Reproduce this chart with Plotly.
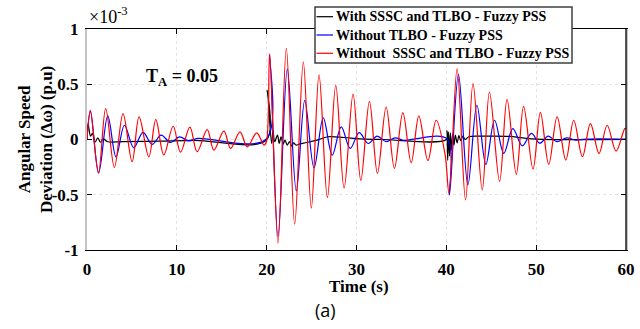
import plotly.graph_objects as go

# ---------------- data (values in units of 1e-3 p.u.) ----------------
series_names = [
    "With SSSC and TLBO - Fuzzy PSS",
    "Without TLBO - Fuzzy PSS",
    "Without  SSSC and TLBO - Fuzzy PSS",
]
series_colors = ["#000000", "#0000ff", "#ff0000"]

black_t = [0, 0.12, 0.4, 0.6, 0.9, 1.2, 1.5, 1.8, 2.3, 4.0, 8.0, 12.0, 19.97,
           20.07, 20.55, 20.7, 20.9, 21.2, 21.4, 21.6, 21.85, 22.04, 22.3, 22.55,
           22.8, 23.0, 23.27, 23.7, 24.46, 25.6, 26.8, 28.6, 30.4, 33.0, 40.0,
           40.07, 40.15, 40.25, 40.35, 40.45, 40.55, 40.7, 40.85, 41.0, 41.2,
           41.4, 41.6, 41.85, 42.1, 42.5, 44.0, 47.0, 48.5, 50.0, 60]
black_v = [0, 0.14, 0.03, 0.055, -0.025, 0.015, -0.025, 0.005, -0.02, -0.02,
           -0.015, -0.008, -0.005, 0.444, -0.036, 0.084, -0.02, 0.039, -0.036,
           0.023, -0.04, -0.006, -0.05, -0.02, -0.06, -0.03, -0.05, -0.04,
           -0.027, -0.006, 0.025, 0.018, 0.005, 0.0, 0.0, 0.08, -0.19, 0.07,
           -0.15, 0.06, -0.1, 0.05, -0.05, 0.04, -0.03, 0.035, -0.01, 0.03, 0.0,
           0.025, 0.03, 0.028, 0.015, 0.003, 0.0]

blue_t = [0, 0.38, 1.3, 2.31, 3.23, 4.17, 5.2, 6.24, 7.25, 8.25, 9.3, 10.3,
          11.3, 12.3, 13.4, 19.97, 20.33, 21.26, 22.3, 23.3, 24.24, 25.27, 26.3,
          27.3, 28.3, 29.3, 30.3, 31.3, 32.3, 33.3, 34.3, 35.3, 36.4, 40.1,
          40.35, 41.35, 42.4, 43.4, 44.4, 45.37, 46.4, 47.4, 48.46, 49.47, 50.4,
          51.35, 52.3, 53.4, 54.4, 55.5, 60]
blue_v = [0, 0.255, -0.30, 0.213, -0.157, 0.129, -0.075, 0.065, -0.045, 0.039,
          -0.027, 0.023, -0.012, 0.01, 0.003, 0.005, 0.766, -0.877, 0.64,
          -0.466, 0.354, -0.256, 0.195, -0.141, 0.114, -0.081, 0.063, -0.036,
          0.03, -0.02, 0.015, -0.008, 0.004, 0.004, -0.50, 0.59, -0.41, 0.31,
          -0.225, 0.174, -0.126, 0.099, -0.058, 0.055, -0.033, 0.03, -0.02,
          0.015, -0.006, 0.004, 0.004]

red_t = [0, 0.38, 1.27, 2.08, 3.05, 4.01, 5.02, 5.80, 6.88, 7.66, 8.55, 9.59,
         10.41, 11.45, 12.26, 13.38, 14.12, 15.24, 15.99, 17.03, 17.84, 18.89,
         19.7, 19.97, 20.33, 21.26, 22.19, 23.12, 24.08, 24.97, 25.83, 26.76,
         27.69, 28.62, 29.62, 30.48, 31.44, 32.33, 33.3, 34.22, 35.16, 36.09,
         36.94, 37.95, 38.87, 39.85, 40.3, 41.2, 42.14, 42.97, 44.0, 44.8,
         45.93, 46.76, 47.79, 48.6, 49.65, 50.47, 51.4, 52.33, 53.3, 54.18,
         55.15, 56.04, 57.0, 57.9, 58.9, 59.87, 60]
red_v = [0, 0.264, -0.306, 0.279, -0.252, 0.234, -0.20, 0.204, -0.157, 0.18,
         -0.14, 0.12, -0.115, 0.112, -0.11, 0.09, -0.096, 0.075, -0.081, 0.069,
         -0.067, 0.06, -0.05, -0.02, 0.775, -0.937, 0.825, -0.766, 0.70, -0.62,
         0.585, -0.526, 0.49, -0.44, 0.41, -0.37, 0.345, -0.306, 0.294, -0.261,
         0.243, -0.21, 0.213, -0.19, 0.174, -0.13, -0.487, 0.64, -0.547, 0.505,
         -0.457, 0.43, -0.38, 0.363, -0.315, 0.30, -0.268, 0.245, -0.225, 0.204,
         -0.186, 0.174, -0.156, 0.144, -0.126, 0.129, -0.105, 0.10, 0.098]

x_ticks = [0, 10, 20, 30, 40, 50, 60]
y_ticks = [-1, -0.5, 0, 0.5, 1]
y_ticktext = ["-1", "-0.5", "0", "0.5", "1"]

# ---------------- figure ----------------
W, H = 640, 329
ML, MR, MT, MB = 87, 14, 29, 79
PW, PH = W - ML - MR, H - MT - MB


def px_x(p):
    return (p - ML) / PW


def px_y(p):
    return (H - MB - p) / PH


SERIF = "Liberation Serif, Times New Roman, serif"

fig = go.Figure()
for t, v, name, col in [
    (black_t, black_v, series_names[0], series_colors[0]),
    (blue_t, blue_v, series_names[1], series_colors[1]),
    (red_t, red_v, series_names[2], series_colors[2]),
]:
    fig.add_trace(go.Scatter(x=t, y=v, mode="lines", name=name,
                             line=dict(color=col, width=1.2, shape="spline",
                                       smoothing=1.0),
                             showlegend=False))

fig.update_layout(
    width=W, height=H,
    margin=dict(l=ML, r=MR, t=MT, b=MB, autoexpand=False),
    paper_bgcolor="white", plot_bgcolor="white",
    font=dict(family=SERIF, color="black"),
)
fig.update_xaxes(
    range=[0, 60], tickvals=x_ticks, ticks="inside", ticklen=5,
    tickcolor="black", showline=True, linecolor="black", linewidth=1.3,
    mirror="ticks", showgrid=True, gridcolor="#e4e4e4", griddash="dot",
    gridwidth=1, zeroline=False, automargin=False,
    tickfont=dict(family=SERIF, size=17, weight="bold", color="black"),
    ticklabelstandoff=3,
)
fig.update_yaxes(
    range=[-1, 1], tickvals=y_ticks, ticktext=y_ticktext, ticks="inside",
    ticklen=5, tickcolor="black", showline=True, linecolor="#c4c4c4",
    linewidth=2, mirror="ticks", showgrid=True, gridcolor="#e4e4e4",
    griddash="dot", gridwidth=1, zeroline=False, automargin=False,
    tickfont=dict(family=SERIF, size=17, weight="bold", color="black"),
    ticklabelstandoff=3,
)

shapes = [
    # right spine (black)
    dict(type="line", xref="paper", yref="paper", x0=1, x1=1, y0=0, y1=1,
         line=dict(color="black", width=1.3), layer="above"),
    # legend box
    dict(type="rect", xref="paper", yref="paper", x0=px_x(315), x1=px_x(572),
         y0=px_y(63), y1=px_y(7), line=dict(color="#404040", width=1.5),
         fillcolor="white", layer="above"),
]
annotations = []
row_y = [16.7, 35, 53.3]
for name, col, ry in zip(series_names, series_colors, row_y):
    shapes.append(dict(type="line", xref="paper", yref="paper",
                       x0=px_x(316.5), x1=px_x(333), y0=px_y(ry), y1=px_y(ry),
                       line=dict(color=col, width=1.2), layer="above"))
    annotations.append(dict(text=name, xref="paper", yref="paper",
                            x=px_x(334), y=px_y(ry), xanchor="left",
                            yanchor="middle", showarrow=False,
                            font=dict(family=SERIF, size=14, weight="bold",
                                      color="black")))

annotations += [
    dict(text="Angular Speed<br>Deviation (\u0394\u03c9) (p.u)", xref="paper",
         yref="paper", x=px_x(35), y=px_y(140), xanchor="center",
         yanchor="middle", textangle=-90, showarrow=False,
         font=dict(family=SERIF, size=17, weight="bold", color="black")),
    dict(text="Time (s)", xref="paper", yref="paper", x=px_x(359),
         y=px_y(286), xanchor="center", yanchor="middle", showarrow=False,
         font=dict(family=SERIF, size=17, weight="bold", color="black")),
    dict(text="\u00d710<sup>-3</sup>", xref="paper", yref="paper",
         x=px_x(87), y=px_y(16), xanchor="left", yanchor="middle",
         showarrow=False,
         font=dict(family=SERIF, size=18, color="black")),
    dict(text="T<sub>A</sub> = 0.05", xref="paper", yref="paper",
         x=px_x(144), y=px_y(77), xanchor="left", yanchor="middle",
         showarrow=False,
         font=dict(family=SERIF, size=18, weight="bold", color="black")),
    dict(text="(a)", xref="paper", yref="paper", x=px_x(325), y=px_y(310),
         xanchor="center", yanchor="middle", showarrow=False,
         font=dict(family="Open Sans, Noto Sans, sans-serif", size=18,
                   color="black")),
]
fig.update_layout(shapes=shapes, annotations=annotations)

# remove the browser's default 8px page margin so the figure sits at (0, 0)
fig.write_html("out.html",
               config={"displayModeBar": False},
               post_script="document.body.style.margin='0px';")
